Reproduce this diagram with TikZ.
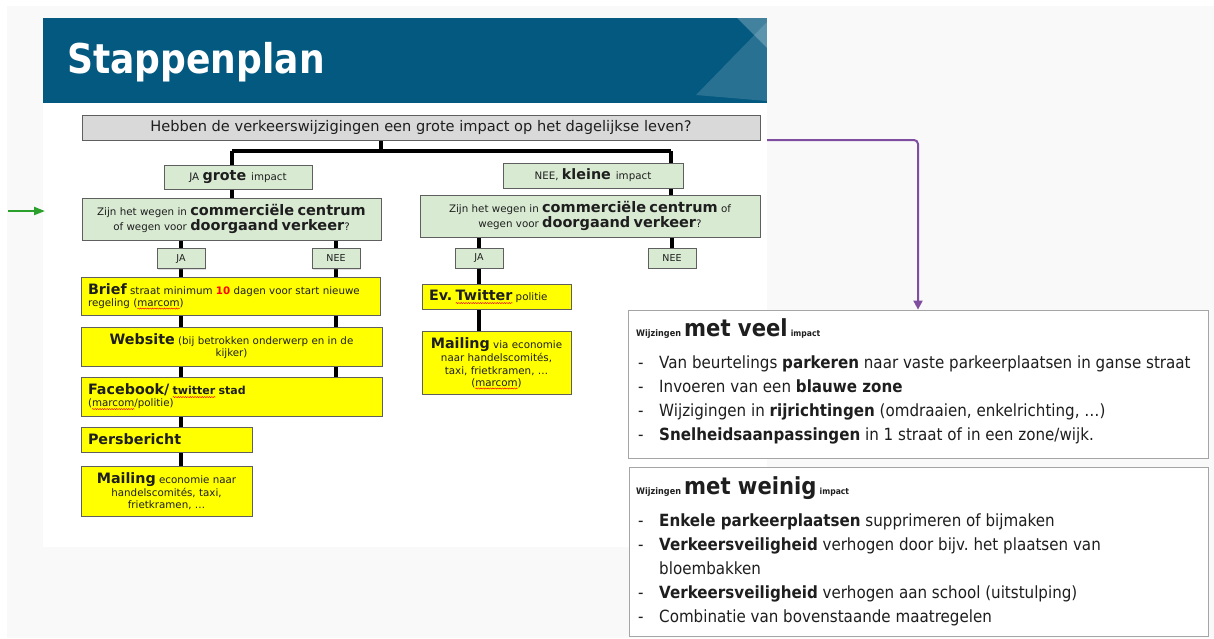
\documentclass[tikz,border=0pt]{standalone}
\usepackage{fontspec}
\setmainfont{DejaVu Sans}
\newfontfamily\narrowfont[FakeStretch=0.9]{DejaVu Sans}
\newfontfamily\titlefont[FakeStretch=0.88]{DejaVu Sans}
\usetikzlibrary{arrows.meta,shadows,calc,decorations.pathmorphing}
\frenchspacing

\definecolor{barblue}{RGB}{3,89,127}
\definecolor{boxgreen}{RGB}{217,234,211}
\definecolor{boxgray}{RGB}{217,217,217}
\definecolor{boxyellow}{RGB}{255,255,0}
\definecolor{edgegray}{RGB}{95,95,95}
\definecolor{panelgray}{RGB}{249,249,249}
\definecolor{arrowpurple}{RGB}{128,78,160}
\definecolor{arrowgreen}{RGB}{44,160,44}
\definecolor{framegray}{RGB}{165,165,165}
\definecolor{inkgray}{RGB}{30,30,30}

% text sizes used inside the flow chart boxes
\newcommand\smtxt{\fontsize{10.3}{13}\selectfont\mdseries}
\newcommand\bigtxt{\fontsize{14.3}{13}\selectfont\bfseries}
\newcommand\tinytxt{\fontsize{9.5}{11}\selectfont}
% spell-check squiggle under a word
\newlength\squigwd
\newcommand\squig[1]{\settowidth\squigwd{#1}%
  \rlap{\tikz[overlay,baseline=0pt,x=1pt,y=1pt]{\draw[red,line width=0.45pt,
    decorate,decoration={snake,amplitude=0.55pt,segment length=2.4pt}]
    (0,-2.2) -- (\squigwd,-2.2);}}#1}
% text sizes for the two lists on the right
\newcommand\listtxt{\narrowfont\fontsize{16.8}{24}\selectfont}
\newcommand\dash{\makebox[21pt][l]{-}}

\pgfdeclarelayer{back}
\pgfdeclarelayer{wires}
\pgfsetlayers{back,wires,main}

\begin{document}
\begin{tikzpicture}[x=1pt,y=-1pt,
  box/.style={draw=edgegray, line width=0.8pt, inner sep=0pt, text=inkgray,
    drop shadow={shadow xshift=1.2pt, shadow yshift=-1.2pt, opacity=0.25}},
  greenbox/.style={box, fill=boxgreen, align=center},
  yellowleft/.style={box, fill=boxyellow, align=left, inner xsep=7pt},
  yellowmid/.style={box, fill=boxyellow, align=center, inner xsep=5pt},
  listbox/.style={draw=framegray, line width=0.8pt, fill=white, inner sep=0pt},
  listline/.style={anchor=base west, inner sep=0pt, text=inkgray},
  link/.style={line width=3.2pt, black},
  parrow/.style={line width=2pt, arrowpurple, rounded corners=4pt,
    -{Triangle[length=9pt,width=9pt]}},
  garrow/.style={line width=2pt, arrowgreen, -{Triangle[length=11pt,width=8pt]}}
]
\useasboundingbox (0,0) rectangle (1214,638);

% page, panel and slide backgrounds
\begin{pgfonlayer}{back}
  \fill[white] (0,0) rectangle (1214,638);
  \fill[panelgray] (7,6) rectangle (1214,638);
  \fill[white] (43,18) rectangle (767,547);
\end{pgfonlayer}

% title bar
\fill[barblue] (43,18) rectangle (767,103);
\fill[white, opacity=0.15] (696,95) -- (767,22) -- (767,101) -- cycle;
\fill[white, opacity=0.25] (737,18) -- (767,18) -- (767,48) -- cycle;
\node[anchor=base west, inner sep=0pt, text=white] (title) at (67,73)
  {\titlefont\fontsize{41}{41}\selectfont\bfseries Stappenplan};

% main question
\node[box, fill=boxgray, minimum width=678pt, minimum height=25pt] (q0) at (421,127.5)
  {\fontsize{14.6}{16}\selectfont Hebben de verkeerswijzigingen een grote impact op het dagelijkse leven?};

% left branch: large impact
\node[greenbox, minimum width=148pt, minimum height=24pt] (ja1) at (238,177)
  {\smtxt JA \bigtxt grote \smtxt impact};
\node[greenbox, minimum width=299pt, minimum height=42pt, text width=290pt] (q1) at (231.5,219)
  {\fontsize{10.3}{17}\selectfont Zijn het wegen in {\fontsize{14.5}{17}\selectfont\bfseries commerciële centrum}\\
   of wegen voor {\fontsize{14.5}{17}\selectfont\bfseries doorgaand verkeer}?};
\node[greenbox, minimum width=48pt, minimum height=20pt] (ja1a) at (181,258.5) {\tinytxt JA};
\node[greenbox, minimum width=48pt, minimum height=20pt] (nee1a) at (336,258.5) {\tinytxt NEE};

\node[yellowleft, minimum width=299pt, minimum height=38pt, text width=285pt] (brief) at (230.5,296)
  {\bigtxt Brief \smtxt straat minimum {\bfseries\color{red}10} dagen voor start nieuwe\\
   regeling (\squig{marcom})};
\node[yellowmid, minimum width=301pt, minimum height=39pt, text width=291pt] (website) at (231.5,346.5)
  {\bigtxt Website \smtxt (bij betrokken onderwerp en in de\\ kijker)};
\node[yellowleft, minimum width=301pt, minimum height=39pt, text width=287pt] (facebook) at (231.5,396.5)
  {\bigtxt Facebook/ {\fontsize{11}{13}\selectfont\squig{twitter} stad}\\
   \smtxt (\squig{marcom}/politie)};
\node[yellowleft, minimum width=171pt, minimum height=25pt, text width=157pt] (pers) at (166.5,439.5)
  {\bigtxt Persbericht};
\node[yellowmid, minimum width=171pt, minimum height=50pt, text width=161pt] (mail1) at (166.5,491)
  {\bigtxt Mailing \smtxt economie naar\\ handelscomités, taxi,\\ frietkramen, …};

% right branch: small impact
\node[greenbox, minimum width=180pt, minimum height=25pt] (nee1) at (593,175.5)
  {\smtxt NEE, \bigtxt kleine \smtxt impact};
\node[greenbox, minimum width=340pt, minimum height=42pt, text width=330pt] (q2) at (590,216)
  {\fontsize{10.3}{17}\selectfont Zijn het wegen in {\fontsize{14.5}{17}\selectfont\bfseries commerciële centrum} of\\
   wegen voor {\fontsize{14.5}{17}\selectfont\bfseries doorgaand verkeer}?};
\node[greenbox, minimum width=48pt, minimum height=20pt] (ja2a) at (479,258) {\tinytxt JA};
\node[greenbox, minimum width=48pt, minimum height=20pt] (nee2a) at (672,258) {\tinytxt NEE};

\node[yellowleft, minimum width=149pt, minimum height=25pt, text width=135pt] (twit) at (496.5,296.5)
  {\bigtxt Ev. \squig{Twitter} \smtxt politie};
\node[yellowmid, minimum width=149pt, minimum height=63pt, text width=139pt] (mail2) at (496.5,362.5)
  {\bigtxt Mailing \smtxt via economie\\ naar handelscomités,\\ taxi, frietkramen, …\\ (\squig{marcom})};

% connectors of the flow chart
\coordinate (split) at (381,151);
\coordinate (jl) at (232,151);
\coordinate (nl) at (671,151);
\begin{pgfonlayer}{wires}
  \draw[link] (q0.south -| split) -- (split);
  \draw[link] (jl) -- (nl);
  \draw[link] (jl) -- (jl |- ja1.north);
  \draw[link] (nl) -- (nl |- nee1.north);
  \draw[link] (ja1.south -| jl) -- (q1.north -| jl);
  \draw[link] (nee1.south -| nl) -- (q2.north -| nl);
  % yes column, left
  \draw[link] (q1.south -| ja1a) -- (ja1a.north);
  \draw[link] (ja1a.south) -- (brief.north -| ja1a);
  \draw[link] (brief.south -| ja1a) -- (website.north -| ja1a);
  \draw[link] (website.south -| ja1a) -- (facebook.north -| ja1a);
  \draw[link] (facebook.south -| ja1a) -- (pers.north -| ja1a);
  \draw[link] (pers.south -| ja1a) -- (mail1.north -| ja1a);
  % no column, left
  \draw[link] (q1.south -| nee1a) -- (nee1a.north);
  \draw[link] (nee1a.south) -- (brief.north -| nee1a);
  \draw[link] (brief.south -| nee1a) -- (website.north -| nee1a);
  \draw[link] (website.south -| nee1a) -- (facebook.north -| nee1a);
  % right branch
  \draw[link] (q2.south -| ja2a) -- (ja2a.north);
  \draw[link] (ja2a.south) -- (twit.north -| ja2a);
  \draw[link] (twit.south -| ja2a) -- (mail2.north -| ja2a);
  \draw[link] (q2.south -| nee2a) -- (nee2a.north);
\end{pgfonlayer}

% list of changes with a lot of impact
\node[listbox, minimum width=580pt, minimum height=148pt] (veel) at (918,384) {};
\node[listline] (vh) at (636,336)
  {\narrowfont\bfseries{\fontsize{9}{10}\selectfont Wijzingen} {\fontsize{23.5}{24}\selectfont met veel} {\fontsize{8.5}{10}\selectfont impact}};
\node[listline] (v1) at (638,368) {\listtxt\dash Van beurtelings \textbf{parkeren} naar vaste parkeerplaatsen in ganse straat};
\node[listline] (v2) at (638,392) {\listtxt\dash Invoeren van een \textbf{blauwe zone}};
\node[listline] (v3) at (638,416) {\listtxt\dash Wijzigingen in \textbf{rijrichtingen} (omdraaien, enkelrichting, …)};
\node[listline] (v4) at (638,440) {\listtxt\dash \textbf{Snelheidsaanpassingen} in 1 straat of in een zone/wijk.};

% list of changes with little impact
\node[listbox, minimum width=579pt, minimum height=169pt] (weinig) at (918.5,551.5) {};
\node[listline] (wh) at (636,494)
  {\narrowfont\bfseries{\fontsize{9}{10}\selectfont Wijzingen} {\fontsize{23.5}{24}\selectfont met weinig} {\fontsize{8.5}{10}\selectfont impact}};
\node[listline] (w1) at (638,526) {\listtxt\dash \textbf{Enkele parkeerplaatsen} supprimeren of bijmaken};
\node[listline] (w2) at (638,550) {\listtxt\dash \textbf{Verkeersveiligheid} verhogen door bijv. het plaatsen van};
\node[listline] (w3) at (659,574) {\listtxt bloembakken};
\node[listline] (w4) at (638,598) {\listtxt\dash \textbf{Verkeersveiligheid} verhogen aan school (uitstulping)};
\node[listline] (w5) at (638,622) {\listtxt\dash Combinatie van bovenstaande maatregelen};

% arrows into and out of the chart
\coordinate (pstart) at (767,140);
\draw[parrow] (pstart) -| (veel.north);
\coordinate (gstart) at (8,211);
\coordinate (gend) at (45,211);
\draw[garrow] (gstart) -- (gend);
\end{tikzpicture}
\end{document}
